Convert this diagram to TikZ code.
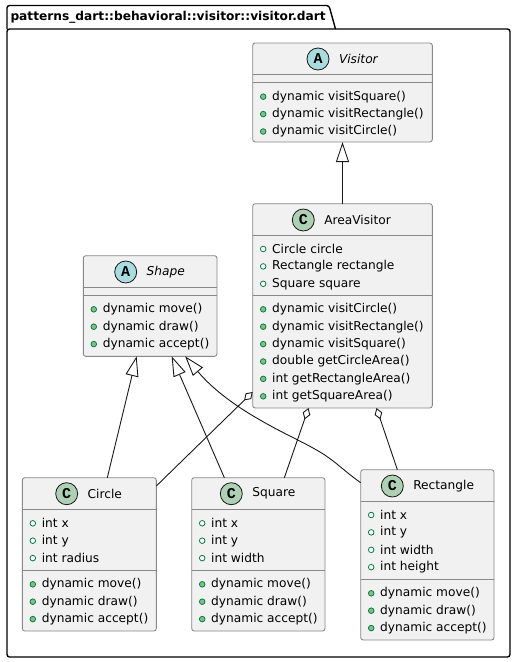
\documentclass[tikz,border=0pt]{standalone}
\usepackage{fontspec}
\setmainfont{DejaVu Sans}
\newfontfamily\iconfont{Liberation Mono}
\usetikzlibrary{calc,positioning,arrows.meta}
\definecolor{boxfill}{HTML}{F1F1F1}
\definecolor{boxline}{HTML}{888888}
\definecolor{absicon}{HTML}{A9DCDF}
\definecolor{clsicon}{HTML}{ADD1B2}
\definecolor{dotline}{HTML}{038048}
\definecolor{dotfill}{HTML}{84BE84}
\definecolor{edge}{HTML}{181818}

\begin{document}
\begin{tikzpicture}[x=1pt,y=-1pt,every node/.style={outer sep=0pt,font=\fontsize{12.2}{14}\selectfont}]
\tikzstyle{classbox}=[draw=boxline,fill=boxfill,line width=0.9pt,rounded corners=2.5pt,inner sep=0pt]
\tikzstyle{divider}=[draw=boxline,line width=0.9pt]
\tikzstyle{absmark}=[circle,draw=edge,fill=absicon,line width=0.8pt,minimum size=22pt,inner sep=0pt,font=\iconfont\bfseries\fontsize{15}{15}\selectfont]
\tikzstyle{clsmark}=[absmark,fill=clsicon]
\tikzstyle{classname}=[inner sep=0pt]
\tikzstyle{absname}=[inner sep=0pt,font=\itshape\fontsize{12.2}{14}\selectfont]
\tikzstyle{member}=[inner sep=0pt,anchor=west]
\tikzstyle{fielddot}=[circle,draw=dotline,fill=white,line width=0.8pt,minimum size=5.6pt,inner sep=0pt]
\tikzstyle{methoddot}=[fielddot,fill=dotfill]
\tikzstyle{extends}=[draw=edge,line width=0.9pt,-{Triangle[open,length=20pt,width=13pt]}]
\tikzstyle{aggregates}=[draw=edge,line width=0.9pt,{Diamond[open,length=12pt,width=8pt]}-]

\useasboundingbox (0,0) rectangle (516,662);

% package frame
\draw [line width=1.4pt,rounded corners=2.5pt] (7,29) -- (7,5.5) -- (329,5.5) -- (335.5,29);
\draw [line width=1.4pt,rounded corners=2.5pt] (7,29) rectangle (510,657);
\node (pkg_title) [inner sep=0pt,anchor=west,font=\bfseries\fontsize{12.2}{14}\selectfont] at (10.5,17.5) {patterns\_dart::behavioral::visitor::visitor.dart};

% Visitor
\node (visitor_node) [classbox,minimum width=179.6pt,minimum height=99pt] at (342.5,92.5) {};
\node (visitor_icon) [absmark] at (318,59) {A};
\node (visitor_name) [absname,right=10pt of visitor_icon] {Visitor};
\draw [divider] ($(visitor_node.north west)+(0,31)$) -- ($(visitor_node.north east)+(0,31)$);
\draw [divider] ($(visitor_node.north west)+(0,39)$) -- ($(visitor_node.north east)+(0,39)$);
\foreach \m [count=\i] in {dynamic visitSquare(),dynamic visitRectangle(),dynamic visitCircle()}
{
  \node (visitor_dot\i) [methoddot] at ($(visitor_node.north west)+(10.5,36.3+17.4*\i)$) {};
  \node (visitor_m\i) [member] at ($(visitor_node.north west)+(19.5,36.3+17.4*\i)$) {\m};
}

% AreaVisitor
\node (area_node) [classbox,minimum width=179.6pt,minimum height=204.3pt] at (342.5,305.85) {};
\node (area_icon) [clsmark] at (303.3,220) {C};
\node (area_name) [classname,right=10pt of area_icon] {AreaVisitor};
\draw [divider] ($(area_node.north west)+(0,32)$) -- ($(area_node.north east)+(0,32)$);
\draw [divider] ($(area_node.north west)+(0,91.3)$) -- ($(area_node.north east)+(0,91.3)$);
\foreach \m [count=\i] in {Circle circle,Rectangle rectangle,Square square}
{
  \node (area_fdot\i) [fielddot] at ($(area_node.north west)+(10.5,27.9+17.4*\i)$) {};
  \node (area_f\i) [member] at ($(area_node.north west)+(19.5,27.9+17.4*\i)$) {\m};
}
\foreach \m [count=\i] in {dynamic visitCircle(),dynamic visitRectangle(),dynamic visitSquare(),double getCircleArea(),int getRectangleArea(),int getSquareArea()}
{
  \node (area_dot\i) [methoddot] at ($(area_node.north west)+(10.5,88.2+17.4*\i)$) {};
  \node (area_m\i) [member] at ($(area_node.north west)+(19.5,88.2+17.4*\i)$) {\m};
}

% Shape
\node (shape_node) [classbox,minimum width=133.7pt,minimum height=100.6pt] at (150.15,306) {};
\node (shape_icon) [absmark] at (125.7,272) {A};
\node (shape_name) [absname,right=10pt of shape_icon] {Shape};
\draw [divider] ($(shape_node.north west)+(0,32)$) -- ($(shape_node.north east)+(0,32)$);
\draw [divider] ($(shape_node.north west)+(0,39.6)$) -- ($(shape_node.north east)+(0,39.6)$);
\foreach \m [count=\i] in {dynamic move(),dynamic draw(),dynamic accept()}
{
  \node (shape_dot\i) [methoddot] at ($(shape_node.north west)+(10.5,36.2+17.4*\i)$) {};
  \node (shape_m\i) [member] at ($(shape_node.north west)+(19.5,36.2+17.4*\i)$) {\m};
}

% Circle
\node (circle_node) [classbox,minimum width=134pt,minimum height=153.3pt] at (89.3,554.35) {};
\node (circle_icon) [clsmark] at (66.7,493.7) {C};
\node (circle_name) [classname,right=10pt of circle_icon] {Circle};
\draw [divider] ($(circle_node.north west)+(0,31.6)$) -- ($(circle_node.north east)+(0,31.6)$);
\draw [divider] ($(circle_node.north west)+(0,93)$) -- ($(circle_node.north east)+(0,93)$);
\foreach \m [count=\i] in {int x,int y,int radius}
{
  \node (circle_fdot\i) [fielddot] at ($(circle_node.north west)+(10.5,28.2+17.4*\i)$) {};
  \node (circle_f\i) [member] at ($(circle_node.north west)+(19.5,28.2+17.4*\i)$) {\m};
}
\foreach \m [count=\i] in {dynamic move(),dynamic draw(),dynamic accept()}
{
  \node (circle_dot\i) [methoddot] at ($(circle_node.north west)+(10.5,89.2+17.4*\i)$) {};
  \node (circle_m\i) [member] at ($(circle_node.north west)+(19.5,89.2+17.4*\i)$) {\m};
}

% Square
\node (square_node) [classbox,minimum width=133.3pt,minimum height=153.3pt] at (258.35,554.35) {};
\node (square_icon) [clsmark] at (231.3,493.7) {C};
\node (square_name) [classname,right=10pt of square_icon] {Square};
\draw [divider] ($(square_node.north west)+(0,31.6)$) -- ($(square_node.north east)+(0,31.6)$);
\draw [divider] ($(square_node.north west)+(0,93)$) -- ($(square_node.north east)+(0,93)$);
\foreach \m [count=\i] in {int x,int y,int width}
{
  \node (square_fdot\i) [fielddot] at ($(square_node.north west)+(10.5,28.2+17.4*\i)$) {};
  \node (square_f\i) [member] at ($(square_node.north west)+(19.5,28.2+17.4*\i)$) {\m};
}
\foreach \m [count=\i] in {dynamic move(),dynamic draw(),dynamic accept()}
{
  \node (square_dot\i) [methoddot] at ($(square_node.north west)+(10.5,89.2+17.4*\i)$) {};
  \node (square_m\i) [member] at ($(square_node.north west)+(19.5,89.2+17.4*\i)$) {\m};
}

% Rectangle
\node (rect_node) [classbox,minimum width=133.3pt,minimum height=170.3pt] at (427.35,554.85) {};
\node (rect_icon) [clsmark] at (392.3,486) {C};
\node (rect_name) [classname,right=10pt of rect_icon] {Rectangle};
\draw [divider] ($(rect_node.north west)+(0,31.6)$) -- ($(rect_node.north east)+(0,31.6)$);
\draw [divider] ($(rect_node.north west)+(0,109.6)$) -- ($(rect_node.north east)+(0,109.6)$);
\foreach \m [count=\i] in {int x,int y,int width,int height}
{
  \node (rect_fdot\i) [fielddot] at ($(rect_node.north west)+(10.5,27.9+17.4*\i)$) {};
  \node (rect_f\i) [member] at ($(rect_node.north west)+(19.5,27.9+17.4*\i)$) {\m};
}
\foreach \m [count=\i] in {dynamic move(),dynamic draw(),dynamic accept()}
{
  \node (rect_dot\i) [methoddot] at ($(rect_node.north west)+(10.5,106.2+17.4*\i)$) {};
  \node (rect_m\i) [member] at ($(rect_node.north west)+(19.5,106.2+17.4*\i)$) {\m};
}

% relations
\draw [extends] (area_node.north) -- (visitor_node.south);
\draw [extends] ([xshift=18pt]circle_node.north) -- ([xshift=-13.5pt]shape_node.south);
\draw [extends] ([xshift=-34pt]square_node.north) -- ([xshift=21.5pt]shape_node.south);
\draw [extends] ([yshift=-13pt]rect_node.north west) .. controls (340,468) and (335,460) .. (313,448) .. controls (290,435) and (230,410) .. ([xshift=35pt]shape_node.south);
\draw [aggregates] ([yshift=16pt]area_node.south west) -- ([yshift=-8.3pt]circle_node.north east);
\draw [aggregates] ([xshift=-34pt]area_node.south) -- ([xshift=26pt]square_node.north);
\draw [aggregates] ([xshift=34pt]area_node.south) -- ([xshift=-30pt]rect_node.north);

\end{tikzpicture}
\end{document}
